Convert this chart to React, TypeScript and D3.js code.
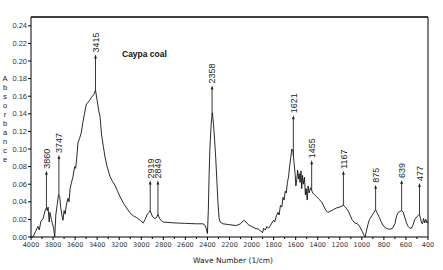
import React from 'react';
import * as d3 from 'd3';

const waveNumbers = [
  4000, 3982, 3960, 3937, 3925, 3910, 3891, 3880, 3870, 3860, 3852, 3845, 3835, 3828, 3815, 3805, 3795, 3785,
  3775, 3761, 3750, 3740, 3730, 3720, 3710, 3700, 3690, 3680, 3665, 3655, 3645, 3635, 3620, 3604, 3595, 3585,
  3574, 3560, 3545, 3530, 3515, 3500, 3490, 3470, 3450, 3430, 3415, 3400, 3385, 3374, 3360, 3344, 3329, 3310,
  3284, 3260, 3239, 3215, 3193, 3160, 3133, 3100, 3070, 3042, 3010, 2983, 2965, 2945, 2930, 2919, 2905, 2890,
  2875, 2861, 2849, 2835, 2815, 2800, 2700, 2600, 2500, 2440, 2420, 2408, 2400, 2392, 2385, 2378, 2370, 2362,
  2355, 2345, 2335, 2325, 2315, 2305, 2295, 2285, 2260, 2200, 2140, 2100, 2070, 2050, 2030, 2000, 1970, 1940,
  1920, 1900, 1890, 1875, 1860, 1845, 1829, 1815, 1800, 1790, 1775, 1760, 1750, 1738, 1725, 1715, 1705, 1695,
  1685, 1675, 1665, 1655, 1645, 1635, 1625, 1615, 1605, 1598, 1590, 1582, 1575, 1568, 1560, 1552, 1545, 1538,
  1530, 1520, 1512, 1505, 1495, 1488, 1478, 1465, 1455, 1445, 1430, 1410, 1390, 1365, 1345, 1325, 1307, 1290,
  1260, 1230, 1200, 1167, 1150, 1130, 1110, 1090, 1065, 1040, 1015, 995, 980, 970, 960, 945, 930, 910, 890,
  875, 860, 840, 820, 800, 780, 760, 740, 720, 700, 685, 670, 655, 639, 625, 610, 595, 580, 565, 550, 535, 520,
  500, 485, 477, 468, 458, 450, 440, 430, 420, 410, 400,
];

const absorbance = [
  0.0, 0.0, 0.006, 0.012, 0.008, 0.018, 0.021, 0.026, 0.031, 0.033, 0.03, 0.034, 0.017, 0.028, 0.02, 0.015, 0.01, 0.0,
  0.025, 0.038, 0.048, 0.046, 0.033, 0.025, 0.019, 0.03, 0.026, 0.036, 0.044, 0.04, 0.055, 0.061, 0.068, 0.08, 0.078, 0.09,
  0.107, 0.112, 0.118, 0.13, 0.14, 0.15, 0.152, 0.155, 0.159, 0.162, 0.167, 0.155, 0.143, 0.137, 0.116, 0.103, 0.091, 0.08,
  0.069, 0.063, 0.059, 0.052, 0.046, 0.038, 0.033, 0.027, 0.024, 0.022, 0.019, 0.016, 0.02, 0.026, 0.028, 0.03, 0.025, 0.022,
  0.021, 0.022, 0.026, 0.021, 0.018, 0.017, 0.016, 0.0155, 0.015, 0.015, 0.013, 0.008, 0.004, 0.03, 0.07, 0.1, 0.12, 0.135,
  0.141, 0.128, 0.11, 0.09, 0.065, 0.04, 0.022, 0.017, 0.015, 0.014, 0.013, 0.015, 0.019, 0.017, 0.014, 0.012, 0.01, 0.009,
  0.007, 0.005, 0.01, 0.008, 0.012, 0.01, 0.013, 0.016, 0.019, 0.017, 0.024, 0.028, 0.025, 0.036, 0.034, 0.045, 0.042, 0.052,
  0.05, 0.062, 0.068, 0.08, 0.09, 0.1, 0.098, 0.085, 0.072, 0.058, 0.065, 0.076, 0.066, 0.072, 0.062, 0.075, 0.055, 0.07,
  0.06, 0.068, 0.048, 0.055, 0.042, 0.058, 0.05, 0.056, 0.053, 0.05, 0.048, 0.046, 0.043, 0.04, 0.035, 0.03, 0.028, 0.029,
  0.031, 0.033, 0.034, 0.036, 0.034, 0.031, 0.026, 0.02, 0.016, 0.015, 0.011, 0.006, 0.002, 0.0, 0.006, 0.014, 0.02, 0.024, 0.028,
  0.031, 0.027, 0.022, 0.016, 0.012, 0.01, 0.009, 0.009, 0.01, 0.015, 0.024, 0.028, 0.029, 0.03, 0.028, 0.022, 0.016, 0.012, 0.01, 0.01, 0.014, 0.02,
  0.023, 0.025, 0.026, 0.021, 0.016, 0.015, 0.021, 0.016, 0.02, 0.016, 0.018,
];

const peakPositions = [3860, 3747, 3415, 2919, 2849, 2358, 1621, 1455, 1167, 875, 639, 477];
const peakArrowTops = [0.073, 0.091, 0.205, 0.062, 0.062, 0.17, 0.136, 0.085, 0.073, 0.057, 0.0625, 0.059];

const xTickValues = [4000, 3800, 3600, 3400, 3200, 3000, 2800, 2600, 2400, 2200, 2000, 1800, 1600, 1400, 1200, 1000, 800, 600, 400];
const xMinorTickValues = [3900, 3700, 3500, 3300, 3100, 2900, 2700, 2500, 2300, 2100, 1900, 1700, 1500, 1300, 1100, 900, 700, 500];
const yTickValues = [0, 0.02, 0.04, 0.06, 0.08, 0.1, 0.12, 0.14, 0.16, 0.18, 0.2, 0.22, 0.24];

const chartTitle = 'Caypa coal';
const xTitle = 'Wave Number (1/cm)';
const yTitle = 'Absorbance';

export default function App() {
  const W = 443;
  const H = 270;
  const left = 31, right = 428, top = 17, bottom = 237;

  const x = d3.scaleLinear().domain([4000, 400]).range([left, right]);
  const y = d3.scaleLinear().domain([0, 0.25]).range([bottom, top]);

  const pts: [number, number][] = waveNumbers.map((w, i) => [w, absorbance[i]]);
  const line = d3.line<[number, number]>().x(d => x(d[0])).y(d => y(d[1]));

  const interp = (w: number) => {
    for (let i = 0; i < waveNumbers.length - 1; i++) {
      const a = waveNumbers[i], b = waveNumbers[i + 1];
      if (w <= a && w >= b) {
        const t = (a - w) / (a - b);
        return absorbance[i] + t * (absorbance[i + 1] - absorbance[i]);
      }
    }
    return 0;
  };

  const tickFont = 'Liberation Sans, Arial, sans-serif';

  return (
    <svg width={W} height={H} style={{ position: 'absolute', left: 0, top: 0, background: '#fff' }}>
      <rect x={0} y={0} width={W} height={H} fill="#fff" />
      {/* frame */}
      <line x1={left} x2={right} y1={top} y2={top} stroke="#000" strokeWidth={1.6} />
      <line x1={right} x2={right} y1={top} y2={bottom} stroke="#000" strokeWidth={1} />
      <line x1={left} x2={left} y1={top} y2={bottom} stroke="#000" strokeWidth={1} />
      <line x1={left} x2={right} y1={bottom} y2={bottom} stroke="#000" strokeWidth={1} />

      {/* y ticks */}
      {yTickValues.map(v => (
        <g key={'y' + v}>
          <line x1={left - 3} x2={left} y1={y(v)} y2={y(v)} stroke="#000" />
          <text x={left - 4} y={y(v)} dy="0.35em" textAnchor="end" fontSize={7.5} fontFamily={tickFont} fill="#333">
            {v.toFixed(2)}
          </text>
        </g>
      ))}

      {/* x ticks */}
      {xMinorTickValues.map(v => (
        <line key={'xm' + v} x1={x(v)} x2={x(v)} y1={bottom} y2={bottom + 2} stroke="#000" />
      ))}
      {xTickValues.map(v => (
        <g key={'x' + v}>
          <line x1={x(v)} x2={x(v)} y1={bottom} y2={bottom + 3} stroke="#000" />
          <text x={x(v)} y={bottom + 10} textAnchor="middle" fontSize={6.5} fontFamily="DejaVu Sans, Verdana, sans-serif" fill="#333">
            {v}
          </text>
        </g>
      ))}

      {/* spectrum */}
      <path d={line(pts) || ''} fill="none" stroke="#111" strokeWidth={0.9} />

      {/* peak annotations */}
      {peakPositions.map((p, i) => {
        const px = x(p);
        const yTop = y(peakArrowTops[i]);
        const yBot = y(interp(p));
        return (
          <g key={'p' + p}>
            <line x1={px} x2={px} y1={yTop} y2={yBot} stroke="#222" strokeWidth={0.9} />
            <path d={`M${px},${yTop - 2} L${px - 1.4},${yTop + 2} L${px + 1.4},${yTop + 2} Z`} fill="#222" />
            <text
              transform={`translate(${px + 3.3},${yTop - 4}) rotate(-90)`}
              fontSize={9}
              fontFamily={tickFont}
              fill="#222"
            >
              {p}
            </text>
          </g>
        );
      })}

      {/* titles */}
      <text x={122} y={57} fontSize={8.5} fontWeight="bold" fontFamily={tickFont} fill="#111">
        {chartTitle}
      </text>
      <text x={233} y={263} textAnchor="middle" fontSize={7.5} fontFamily="DejaVu Sans, Verdana, sans-serif" fill="#222">
        {xTitle}
      </text>
      {yTitle.split('').map((ch, i) => (
        <text key={'yt' + i} x={5} y={81 + i * 9} textAnchor="middle" fontSize={7.5} fontFamily={tickFont} fill="#222">
          {ch}
        </text>
      ))}
    </svg>
  );
}
